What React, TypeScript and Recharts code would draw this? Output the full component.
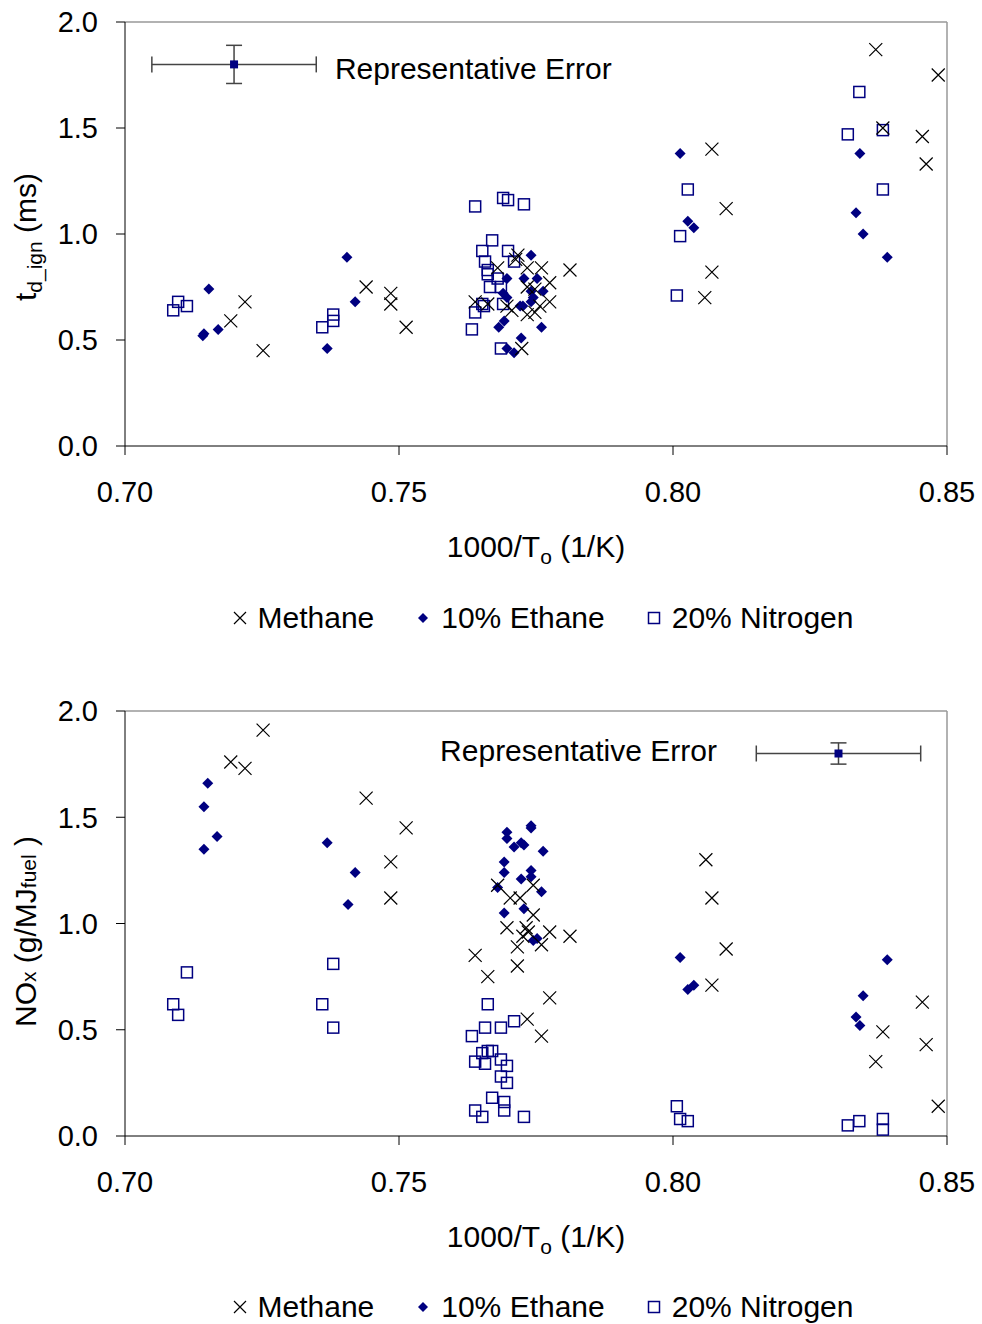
import React from 'react'
import {
  ScatterChart,
  Scatter,
  XAxis,
  YAxis,
  ErrorBar,
  ReferenceLine,
  ReferenceDot,
} from 'recharts'

type Pt = [number, number]

const xTicks = [0.7, 0.75, 0.8, 0.85]
const yTicks = [0, 0.5, 1.0, 1.5, 2.0]

// ignition delay (ms)
const methaneDelay: Pt[] = [
  [0.7219, 0.68], [0.7193, 0.59], [0.7252, 0.45], [0.744, 0.75], [0.7485, 0.72], [0.7485, 0.67], [0.7513, 0.56],
  [0.7717, 0.9], [0.7713, 0.88], [0.768, 0.84], [0.7734, 0.84], [0.776, 0.84], [0.7812, 0.83], [0.7775, 0.77],
  [0.7734, 0.75], [0.7748, 0.74], [0.7639, 0.68], [0.7662, 0.67], [0.7697, 0.66], [0.7775, 0.68], [0.7757, 0.66],
  [0.7706, 0.64], [0.7734, 0.62], [0.7748, 0.63], [0.7724, 0.46],
  [0.8071, 1.4], [0.8097, 1.12], [0.8071, 0.82], [0.8058, 0.7], [0.837, 1.87], [0.8484, 1.75], [0.8455, 1.46],
  [0.8462, 1.33], [0.8383, 1.5],
]
const ethaneDelay: Pt[] = [
  [0.7153, 0.74], [0.7142, 0.52], [0.7144, 0.53], [0.717, 0.55], [0.7369, 0.46], [0.742, 0.68], [0.7405, 0.89],
  [0.7741, 0.9], [0.7697, 0.79], [0.7728, 0.79], [0.7752, 0.79], [0.769, 0.72], [0.7697, 0.7], [0.7741, 0.73],
  [0.7745, 0.7], [0.7763, 0.73], [0.7741, 0.68], [0.7721, 0.66], [0.7726, 0.66], [0.7692, 0.59], [0.7682, 0.56],
  [0.776, 0.56], [0.7723, 0.51], [0.7697, 0.46], [0.771, 0.44],
  [0.8013, 1.38], [0.8027, 1.06], [0.8038, 1.03], [0.8341, 1.38], [0.8334, 1.1], [0.8347, 1.0], [0.8391, 0.89],
]
const nitrogenDelay: Pt[] = [
  [0.7088, 0.64], [0.7097, 0.68], [0.7113, 0.66], [0.736, 0.56], [0.738, 0.62], [0.738, 0.59],
  [0.769, 1.17], [0.7699, 1.16], [0.7728, 1.14], [0.7639, 1.13], [0.767, 0.97], [0.7652, 0.92], [0.7699, 0.92],
  [0.7657, 0.87], [0.771, 0.87], [0.7662, 0.83], [0.7662, 0.81], [0.768, 0.79], [0.7666, 0.75], [0.7686, 0.75],
  [0.7652, 0.67], [0.7655, 0.66], [0.769, 0.67], [0.7639, 0.63], [0.7633, 0.55], [0.7686, 0.46],
  [0.8027, 1.21], [0.8013, 0.99], [0.8007, 0.71], [0.8319, 1.47], [0.834, 1.67], [0.8383, 1.49], [0.8383, 1.21],
]

// NOx emissions (g/MJ fuel)
const methaneNox: Pt[] = [
  [0.7252, 1.91], [0.7193, 1.76], [0.7219, 1.73], [0.744, 1.59], [0.7513, 1.45], [0.7485, 1.29], [0.7485, 1.12],
  [0.768, 1.18], [0.7703, 1.12], [0.7721, 1.12], [0.7745, 1.18], [0.7745, 1.04], [0.7697, 0.98], [0.7732, 0.98],
  [0.7736, 0.96], [0.7726, 0.94], [0.7775, 0.96], [0.7812, 0.94], [0.7716, 0.89], [0.776, 0.9], [0.7639, 0.85],
  [0.7662, 0.75], [0.7716, 0.8], [0.7775, 0.65], [0.7734, 0.55], [0.776, 0.47],
  [0.806, 1.3], [0.8071, 1.12], [0.8097, 0.88], [0.8071, 0.71], [0.8455, 0.63], [0.8462, 0.43], [0.8484, 0.14],
  [0.8383, 0.49], [0.837, 0.35],
]
const ethaneNox: Pt[] = [
  [0.7151, 1.66], [0.7144, 1.55], [0.7168, 1.41], [0.7144, 1.35], [0.7369, 1.38], [0.742, 1.24], [0.7407, 1.09],
  [0.7741, 1.46], [0.7741, 1.45], [0.7697, 1.43], [0.7697, 1.4], [0.771, 1.36], [0.7723, 1.38], [0.7728, 1.37],
  [0.7763, 1.34], [0.7692, 1.29], [0.7692, 1.24], [0.7741, 1.25], [0.7741, 1.22], [0.7723, 1.21], [0.768, 1.17],
  [0.776, 1.15], [0.7728, 1.07], [0.7692, 1.05], [0.7752, 0.93], [0.7745, 0.92],
  [0.8013, 0.84], [0.8027, 0.69], [0.8038, 0.71], [0.8391, 0.83], [0.8347, 0.66], [0.8334, 0.56], [0.8341, 0.52],
]
const nitrogenNox: Pt[] = [
  [0.7088, 0.62], [0.7097, 0.57], [0.7113, 0.77], [0.736, 0.62], [0.738, 0.81], [0.738, 0.51],
  [0.7662, 0.62], [0.7657, 0.51], [0.7686, 0.51], [0.771, 0.54], [0.7633, 0.47], [0.7652, 0.39], [0.7662, 0.4],
  [0.767, 0.4], [0.7639, 0.35], [0.7657, 0.34], [0.7686, 0.36], [0.7697, 0.33], [0.7686, 0.28], [0.7697, 0.25],
  [0.767, 0.18], [0.7692, 0.16], [0.7692, 0.12], [0.7639, 0.12], [0.7652, 0.09], [0.7728, 0.09],
  [0.8007, 0.14], [0.8013, 0.08], [0.8027, 0.07], [0.8319, 0.05], [0.834, 0.07], [0.8383, 0.08], [0.8383, 0.03],
]

// representative error bars
const delayError = [{ x: 0.7199, y: 1.8, ex: 0.015, ey: 0.09 }]
const noxError = [{ x: 0.8302, y: 1.8, ex: 0.015, ey: 0.05 }]

const NAVY = '#000080'
const FONT = '"Liberation Sans", Arial, sans-serif'
const toRows = (pts: Pt[]) => pts.map(([x, y]) => ({ x, y }))

const Cross = (props: any) => {
  const { cx, cy } = props
  const s = 6.5
  return (
    <path d={`M${cx - s},${cy - s}L${cx + s},${cy + s}M${cx - s},${cy + s}L${cx + s},${cy - s}`} stroke="#000" strokeWidth={1.2} fill="none" />
  )
}
const Diamond = (props: any) => {
  const { cx, cy } = props
  const s = 5.5
  return <path d={`M${cx},${cy - s}L${cx + s},${cy}L${cx},${cy + s}L${cx - s},${cy}Z`} fill={NAVY} />
}
const Square = (props: any) => {
  const { cx, cy } = props
  const s = 5.5
  return <rect x={cx - s} y={cy - s} width={2 * s} height={2 * s} fill="none" stroke={NAVY} strokeWidth={1.5} />
}
const CenterMark = (props: any) => {
  const { cx, cy } = props
  return <rect x={cx - 4} y={cy - 4} width={8} height={8} fill={NAVY} />
}

const XLabel = ({ viewBox }: any) => {
  const cx = viewBox.x + viewBox.width / 2
  return (
    <text x={cx} y={viewBox.y + 111} textAnchor="middle" fontFamily={FONT} fontSize={30} fill="#000">
      1000/T<tspan fontSize={21} dy={7}>o</tspan>
      <tspan dy={-7} fontSize={30}> (1/K)</tspan>
    </text>
  )
}

type Props = {
  methane: Pt[]
  ethane: Pt[]
  nitrogen: Pt[]
  err: { x: number; y: number; ex: number; ey: number }[]
  errLabel: Pt
  yLabel: React.ReactNode
  yLabelShift: number
  height: number
  top: number
}

function Panel({ methane, ethane, nitrogen, err, errLabel, yLabel, yLabelShift, height, top }: Props) {
  const YLabel = ({ viewBox }: any) => {
    const cy = viewBox.y + viewBox.height / 2 + yLabelShift
    return (
      <text x={36} y={cy} transform={`rotate(-90 36 ${cy})`} textAnchor="middle" fontFamily={FONT} fontSize={30} fill="#000">
        {yLabel}
      </text>
    )
  }
  const tick = { fontSize: 29, fontFamily: FONT, fill: '#000' }
  return (
    <ScatterChart width={982} height={height} margin={{ top, right: 35, left: 0, bottom: 0 }}>
      <XAxis
        type="number"
        dataKey="x"
        domain={[0.7, 0.85]}
        ticks={xTicks}
        tickFormatter={(v) => v.toFixed(2)}
        tick={tick}
        tickSize={9}
        tickMargin={26}
        height={129}
        stroke="#000"
        allowDataOverflow
        label={<XLabel />}
      />
      <YAxis
        type="number"
        dataKey="y"
        domain={[0, 2]}
        ticks={yTicks}
        tickFormatter={(v) => v.toFixed(1)}
        tick={tick}
        tickSize={9}
        tickMargin={18}
        width={125}
        stroke="#000"
        allowDataOverflow
        label={<YLabel />}
      />
      <ReferenceLine y={2} stroke="#999" strokeWidth={1.5} />
      <ReferenceLine x={0.85} stroke="#999" strokeWidth={1.5} />
      <ReferenceDot
        x={errLabel[0]}
        y={errLabel[1]}
        r={0}
        stroke="none"
        label={{ value: 'Representative Error', position: 'right', offset: 0, fill: '#000', fontSize: 30, fontFamily: FONT }}
      />
      <Scatter data={toRows(nitrogen)} shape={<Square />} isAnimationActive={false} />
      <Scatter data={toRows(ethane)} shape={<Diamond />} isAnimationActive={false} />
      <Scatter data={toRows(methane)} shape={<Cross />} isAnimationActive={false} />
      <Scatter data={err} shape={<CenterMark />} isAnimationActive={false}>
        <ErrorBar dataKey="ex" direction="x" width={8} stroke="#444" strokeWidth={1.5} />
        <ErrorBar dataKey="ey" direction="y" width={8} stroke="#444" strokeWidth={1.5} />
      </Scatter>
    </ScatterChart>
  )
}

function LegendRow({ height }: { height: number }) {
  const item = { display: 'flex', alignItems: 'center', fontFamily: FONT, fontSize: 30, color: '#000' }
  const sym = { marginRight: 11 }
  return (
    <div style={{ width: 982, height, display: 'flex', justifyContent: 'center', alignItems: 'center', gap: 42, paddingLeft: 104, boxSizing: 'border-box' }}>
      <div style={item}>
        <svg width={14} height={14} style={sym}>
          <path d="M1,1L13,13M1,13L13,1" stroke="#000" strokeWidth={1.2} />
        </svg>
        Methane
      </div>
      <div style={item}>
        <svg width={14} height={14} style={sym}>
          <path d="M7,2L12,7L7,12L2,7Z" fill={NAVY} />
        </svg>
        10% Ethane
      </div>
      <div style={item}>
        <svg width={14} height={14} style={sym}>
          <rect x={1.5} y={1.5} width={11} height={11} fill="none" stroke={NAVY} strokeWidth={1.5} />
        </svg>
        20% Nitrogen
      </div>
    </div>
  )
}

export default function App() {
  return (
    <div style={{ position: 'absolute', left: 0, top: 0, width: 982, background: '#fff' }}>
      <Panel
        methane={methaneDelay}
        ethane={ethaneDelay}
        nitrogen={nitrogenDelay}
        err={delayError}
        errLabel={[0.7383, 1.783]}
        yLabelShift={3}
        yLabel={
          <>
            t<tspan fontSize={21} dy={6}>d_ign</tspan>
            <tspan dy={-6} fontSize={30}> (ms)</tspan>
          </>
        }
        height={575}
        top={22}
      />
      <LegendRow height={85} />
      <Panel
        methane={methaneNox}
        ethane={ethaneNox}
        nitrogen={nitrogenNox}
        err={noxError}
        errLabel={[0.7575, 1.816]}
        yLabelShift={8}
        yLabel={
          <>
            NO<tspan fontSize={21}>x</tspan>
            <tspan fontSize={30}> (g/MJ</tspan>
            <tspan fontSize={21}>fuel</tspan>
            <tspan fontSize={30}> )</tspan>
          </>
        }
        height={605}
        top={51}
      />
      <LegendRow height={84} />
    </div>
  )
}
